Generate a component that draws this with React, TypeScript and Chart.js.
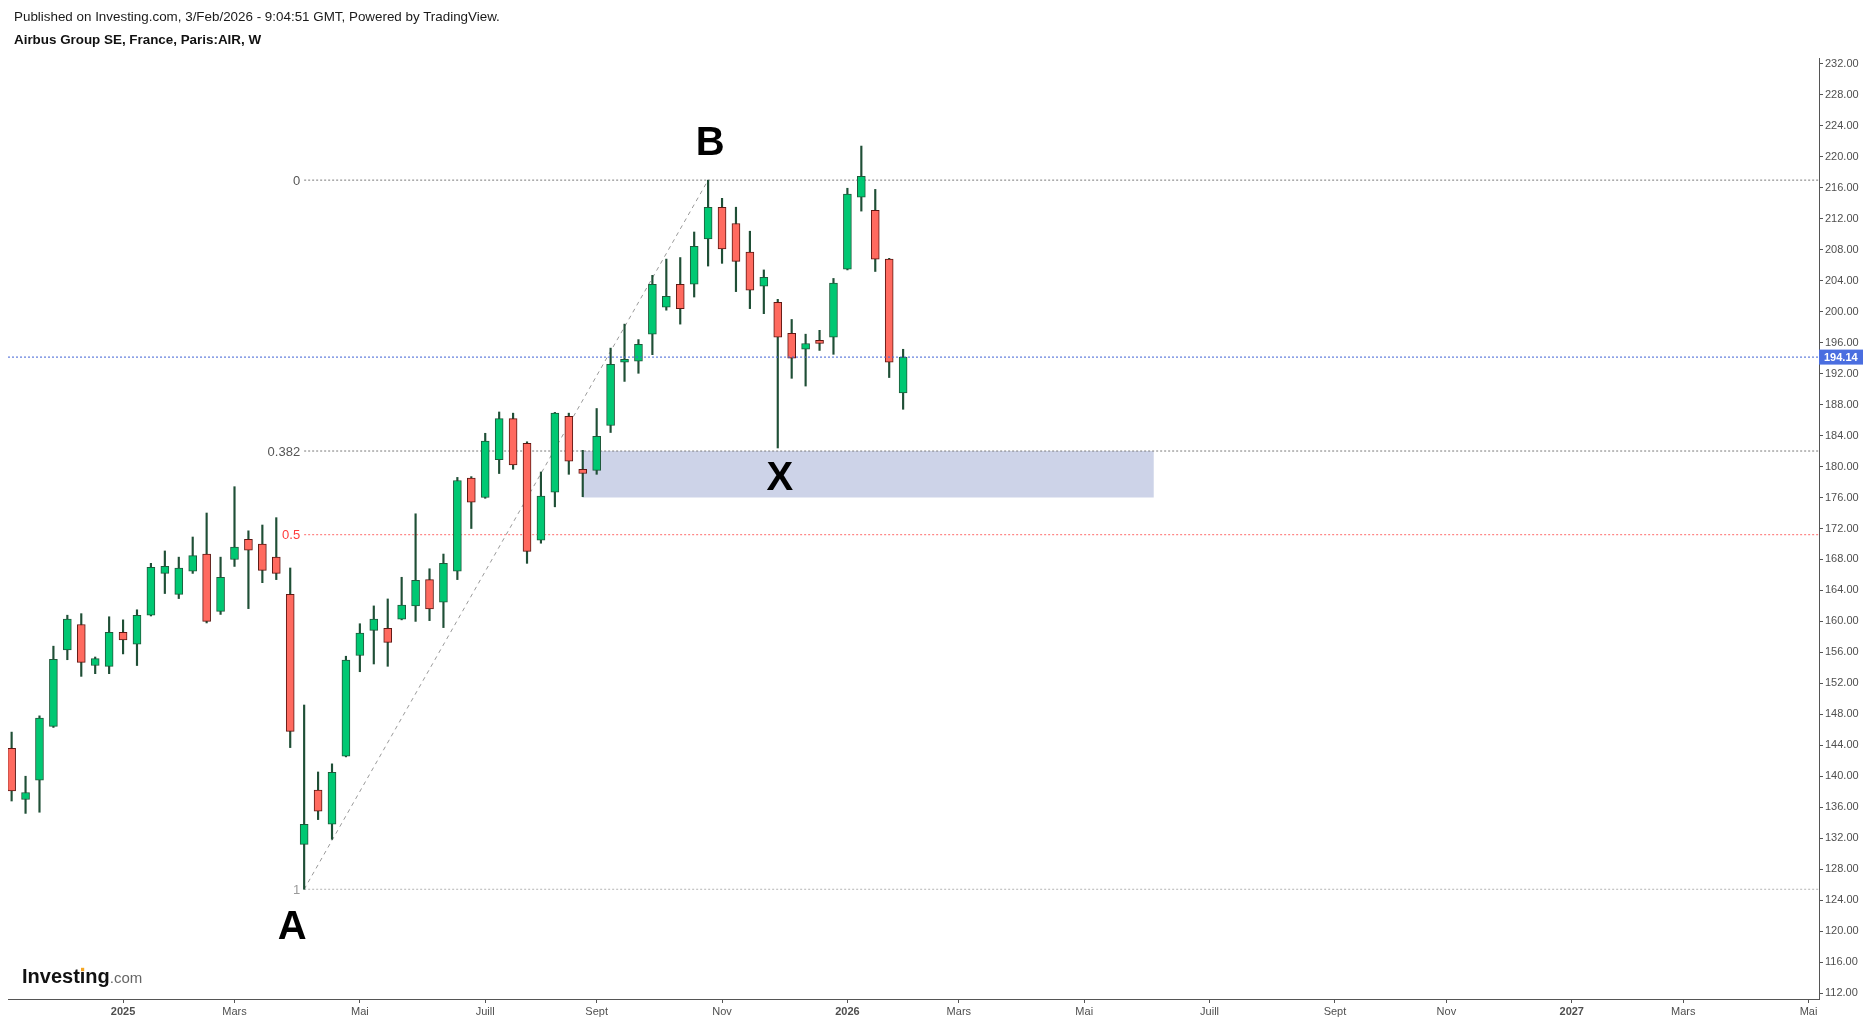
import React, { useEffect, useRef } from 'react';
import { Chart, registerables } from 'chart.js';

Chart.register(...registerables);

// Weekly candles, first bar = week of 11 Nov 2024, last bar = week of 2 Feb 2026
const OPEN = [
  143.6, 137.0, 139.5, 146.45, 156.3, 159.6, 154.3, 154.2, 158.6, 157.05,
  160.8, 166.2, 163.5, 166.5, 168.7, 161.3, 168.0, 170.6, 170.0, 168.3,
  163.5, 131.2, 138.2, 133.8, 142.6, 155.6, 158.85, 159.1, 160.3, 162.0,
  165.4, 162.5, 166.5, 178.5, 176.0, 180.9, 186.2, 183.0, 170.5, 176.7,
  186.5, 179.65, 179.5, 185.3, 193.5, 193.6, 197.1, 200.6, 203.55, 203.55,
  209.4, 213.5, 211.4, 207.7, 203.3, 201.2, 197.2, 195.15, 196.3, 196.7,
  205.5, 214.8, 213.1, 206.8, 189.5,
];
const HIGH = [
  145.7, 140.0, 147.8, 156.8, 160.8, 161.0, 155.4, 160.6, 160.2, 161.5,
  167.5, 169.1, 168.3, 170.9, 174.0, 168.3, 177.4, 171.7, 172.45, 173.4,
  166.9, 149.2, 140.55, 141.6, 155.5, 159.7, 162.0, 162.9, 165.7, 173.9,
  166.8, 168.7, 178.6, 178.7, 184.3, 187.05, 186.9, 183.2, 179.3, 187.0,
  186.9, 182.1, 187.5, 195.3, 198.4, 196.4, 204.7, 206.8, 207.0, 210.3,
  217.0, 214.65, 213.5, 210.4, 205.4, 201.6, 199.0, 197.1, 197.6, 204.3,
  215.95, 221.4, 215.8, 206.9, 195.15,
];
const LOW = [
  136.8, 135.2, 135.35, 146.3, 155.05, 152.9, 153.25, 153.25, 155.8, 154.3,
  160.7, 163.6, 162.95, 166.2, 159.8, 160.9, 167.1, 161.65, 165.0, 165.4,
  143.7, 125.4, 134.4, 131.85, 142.5, 153.5, 154.5, 154.2, 160.2, 160.0,
  160.1, 159.2, 165.4, 172.0, 175.9, 179.1, 179.65, 167.5, 170.1, 174.8,
  179.0, 176.1, 179.0, 184.4, 191.0, 192.05, 194.45, 200.2, 198.4, 201.9,
  205.9, 206.25, 202.6, 200.4, 199.75, 182.4, 191.4, 190.4, 195.0, 194.5,
  205.4, 213.0, 205.2, 191.5, 187.4,
];
const CLOSE = [
  138.1, 137.9, 147.5, 155.1, 160.3, 154.7, 155.2, 158.6, 157.6, 160.8,
  167.0, 167.1, 166.9, 168.5, 160.0, 165.7, 169.6, 169.2, 166.6, 166.2,
  145.8, 133.8, 135.5, 140.5, 155.0, 158.5, 160.3, 157.3, 162.1, 165.3,
  161.6, 167.5, 178.2, 175.4, 183.3, 186.2, 180.2, 169.05, 176.2, 186.9,
  180.7, 179.1, 183.9, 193.2, 193.85, 195.8, 203.55, 202.0, 200.4, 208.45,
  213.5, 208.1, 206.5, 202.8, 204.45, 196.7, 194.0, 195.9, 195.9, 203.7,
  215.2, 217.5, 206.8, 193.5, 194.14,
];

// X axis: week index of the first bar of each labelled month
const X_TICKS = [8, 16, 25, 34, 42, 51, 60, 68, 77, 86, 95, 103, 112, 120, 129];
const X_TICK_LABELS = ['2025', 'Mars', 'Mai', 'Juill', 'Sept', 'Nov', '2026', 'Mars', 'Mai', 'Juill', 'Sept', 'Nov', '2027', 'Mars', 'Mai'];
const Y_TICKS = [112, 116, 120, 124, 128, 132, 136, 140, 144, 148, 152, 156, 160, 164, 168, 172, 176, 180, 184, 188, 192, 196, 200, 204, 208, 212, 216, 220, 224, 228, 232];

// Drawing annotations
const SWING_A = { week: 21, price: 125.4 };
const SWING_B = { week: 50, price: 217.0 };
const SWING_X = { week: 55, price: 182.4 };
const FIB_LEVELS = [0, 0.382, 0.5, 1];
const FIB_LABELS = ['0', '0.382', '0.5', '1'];
const ZONE_WEEKS = [41, 82];
const ZONE_PRICES = [176.0, 182.0];
const LAST_PRICE = 194.14;

const X_MIN = -0.26;
const X_MAX = 129.75;
const Y_MIN = 111.225;
const Y_MAX = 232.775;

const FONT = '"Liberation Sans", Arial, sans-serif';
const UP = '#00c873';
const DOWN = '#ff6a5f';
const UP_BORDER = '#1e5a3b';
const DOWN_BORDER = '#5e1712';
const WICK = '#1f4f36';
const FIB_LINE_COLORS = ['#7a7a7a', '#7a7a7a', '#ff6b6b', '#b5b5b5'];
const FIB_TEXT_COLORS = ['#555555', '#555555', '#ff3b3b', '#9a9a9a'];

const fibPrice = (lvl: number) => SWING_B.price - lvl * (SWING_B.price - SWING_A.price);

const annotationPlugin = {
  id: 'annotations',
  afterDatasetsDraw(chart: any) {
    const { ctx, scales } = chart;
    const xs = scales.x;
    const ys = scales.y;
    const area = chart.chartArea;
    ctx.save();

    // Fib labels
    ctx.font = `13px ${FONT}`;
    ctx.textAlign = 'right';
    ctx.textBaseline = 'middle';
    FIB_LEVELS.forEach((lvl, i) => {
      ctx.fillStyle = FIB_TEXT_COLORS[i];
      ctx.fillText(FIB_LABELS[i], xs.getPixelForValue(SWING_A.week) - 4, ys.getPixelForValue(fibPrice(lvl)) + 1);
    });

    // Pattern letters
    ctx.font = `bold 40px ${FONT}`;
    ctx.fillStyle = '#000';
    ctx.textAlign = 'center';
    ctx.textBaseline = 'middle';
    ctx.fillText('A', xs.getPixelForValue(SWING_A.week) - 12, ys.getPixelForValue(SWING_A.price) + 39);
    ctx.fillText('B', xs.getPixelForValue(SWING_B.week) + 2, ys.getPixelForValue(SWING_B.price) - 36);
    ctx.fillText('X', xs.getPixelForValue(SWING_X.week) + 2, ys.getPixelForValue(SWING_X.price) + 31);

    // Last price tag
    const py = ys.getPixelForValue(LAST_PRICE);
    ctx.fillStyle = '#4a6ee0';
    ctx.fillRect(area.right, py - 7.5, 44, 15);
    ctx.fillStyle = '#fff';
    ctx.font = `bold 11px ${FONT}`;
    ctx.textAlign = 'left';
    ctx.textBaseline = 'middle';
    ctx.fillText(LAST_PRICE.toFixed(2), area.right + 5, py + 0.5);

    // Logo
    const lx = 22;
    const ly = 983;
    ctx.textBaseline = 'alphabetic';
    ctx.font = `bold 20px ${FONT}`;
    ctx.fillStyle = '#111';
    ctx.fillText('Investing', lx, ly);
    const w = ctx.measureText('Investing').width;
    const wInvest = ctx.measureText('Invest').width;
    ctx.fillStyle = '#f5a623';
    ctx.fillRect(lx + wInvest + 1.2, ly - 15.2, 3.2, 3.4);
    ctx.font = `15px ${FONT}`;
    ctx.fillStyle = '#666';
    ctx.fillText('.com', lx + w, ly);

    ctx.restore();
  },
};

export default function App() {
  const ref = useRef<HTMLCanvasElement | null>(null);

  useEffect(() => {
    if (!ref.current) return;
    const idx = OPEN.map((_, i) => i);
    const fibSets = FIB_LEVELS.map((lvl, i) => ({
      type: 'line' as const,
      data: [
        { x: SWING_A.week, y: fibPrice(lvl) },
        { x: X_MAX, y: fibPrice(lvl) },
      ],
      borderColor: FIB_LINE_COLORS[i],
      borderWidth: 1,
      borderDash: [2, 2],
      pointRadius: 0,
      fill: false,
      order: 6,
    }));

    const chart = new Chart(ref.current, {
      type: 'bar',
      data: {
        datasets: [
          {
            type: 'line',
            data: [
              { x: ZONE_WEEKS[0], y: ZONE_PRICES[1] },
              { x: ZONE_WEEKS[1], y: ZONE_PRICES[1] },
            ],
            borderWidth: 0,
            borderColor: 'rgba(0,0,0,0)',
            backgroundColor: '#cdd3e8',
            pointRadius: 0,
            fill: { value: ZONE_PRICES[0] },
            order: 9,
          } as any,
          ...fibSets,
          {
            type: 'line',
            data: [
              { x: SWING_A.week, y: SWING_A.price },
              { x: SWING_B.week, y: SWING_B.price },
            ],
            borderColor: '#9a9a9a',
            borderWidth: 1,
            borderDash: [4, 4],
            pointRadius: 0,
            fill: false,
            order: 5,
          },
          {
            type: 'bar',
            data: idx.map((i) => ({ x: i, y: [LOW[i], HIGH[i]] })),
            backgroundColor: WICK,
            borderWidth: 0,
            barThickness: 1.5,
            grouped: false,
            order: 3,
          } as any,
          {
            type: 'bar',
            data: idx.map((i) => ({ x: i, y: [OPEN[i], CLOSE[i]] })),
            backgroundColor: idx.map((i) => (CLOSE[i] >= OPEN[i] ? UP : DOWN)),
            borderColor: idx.map((i) => (CLOSE[i] >= OPEN[i] ? UP_BORDER : DOWN_BORDER)),
            borderWidth: 1,
            borderSkipped: false,
            barThickness: 8,
            grouped: false,
            order: 2,
          } as any,
          {
            type: 'line',
            data: [
              { x: X_MIN, y: LAST_PRICE },
              { x: X_MAX, y: LAST_PRICE },
            ],
            borderColor: '#3f62d6',
            borderWidth: 1,
            borderDash: [2, 2],
            pointRadius: 0,
            fill: false,
            order: 1,
          },
        ],
      },
      options: {
        animation: false,
        responsive: false,
        devicePixelRatio: 1,
        layout: { padding: { left: 8, top: 58, right: 0, bottom: 0 } },
        plugins: {
          legend: { display: false },
          tooltip: { enabled: false },
          title: { display: false },
        },
        scales: {
          x: {
            type: 'linear',
            position: 'bottom',
            min: X_MIN,
            max: X_MAX,
            offset: false,
            grid: { display: true, drawOnChartArea: false, drawTicks: true, tickLength: 4, tickColor: '#555', offset: false },
            border: { display: true, color: '#555' },
            afterBuildTicks: (s: any) => {
              s.ticks = X_TICKS.map((v) => ({ value: v }));
            },
            afterFit: (s: any) => {
              s.height = 24;
            },
            ticks: {
              autoSkip: false,
              maxRotation: 0,
              minRotation: 0,
              padding: 2,
              color: '#4f4f4f',
              font: (c: any) => {
                const v = c.tick ? c.tick.value : 0;
                const lab = X_TICK_LABELS[X_TICKS.indexOf(v)] || '';
                return { family: FONT, size: 11, weight: /^\d{4}$/.test(lab) ? 'bold' : 'normal' } as any;
              },
              callback: (v: any) => X_TICK_LABELS[X_TICKS.indexOf(Number(v))] ?? '',
            },
          },
          y: {
            type: 'linear',
            position: 'right',
            min: Y_MIN,
            max: Y_MAX,
            grid: { display: true, drawOnChartArea: false, drawTicks: true, tickLength: 4, tickColor: '#555' },
            border: { display: true, color: '#555' },
            afterBuildTicks: (s: any) => {
              s.ticks = Y_TICKS.map((v) => ({ value: v }));
            },
            afterFit: (s: any) => {
              s.width = 51;
            },
            ticks: {
              autoSkip: false,
              padding: 2,
              color: '#4f4f4f',
              font: { family: FONT, size: 11 },
              callback: (v: any) => Number(v).toFixed(2),
            },
          },
        },
      } as any,
      plugins: [annotationPlugin],
    });
    return () => chart.destroy();
  }, []);

  return (
    <div style={{ position: 'fixed', left: 0, top: 0, width: 1870, height: 1023, background: '#fff', overflow: 'hidden' }}>
      <canvas ref={ref} width={1870} height={1023} style={{ position: 'absolute', left: 0, top: 0, width: 1870, height: 1023 }} />
      <div style={{ position: 'absolute', left: 14, top: 9, font: `13.4px ${FONT}`, color: '#1a1a1a', lineHeight: '16px', whiteSpace: 'nowrap' }}>
        Published on Investing.com, 3/Feb/2026 - 9:04:51 GMT, Powered by TradingView.
      </div>
      <div style={{ position: 'absolute', left: 14, top: 32, font: `bold 13.4px ${FONT}`, color: '#111', lineHeight: '16px', whiteSpace: 'nowrap' }}>
        Airbus Group SE, France, Paris:AIR, W
      </div>
    </div>
  );
}
